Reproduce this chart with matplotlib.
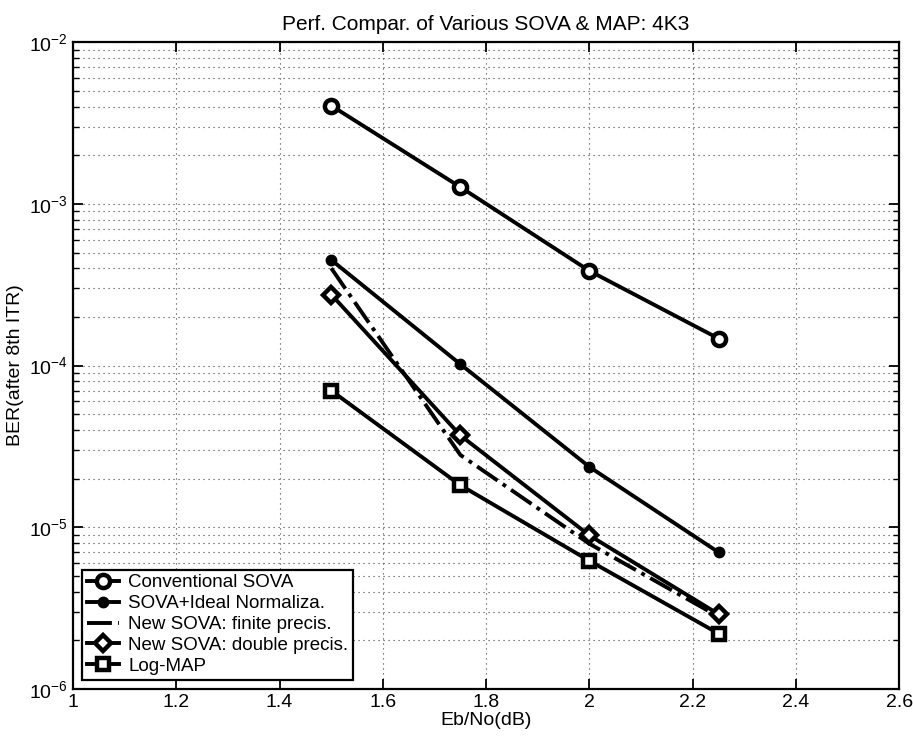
import matplotlib
matplotlib.use("Agg")
import matplotlib.pyplot as plt
from matplotlib.ticker import LogLocator, FixedLocator, NullFormatter

plt.rcParams['font.family'] = ['Liberation Sans', 'DejaVu Sans']
plt.rcParams['mathtext.default'] = 'regular'

# data
ebno = [1.5, 1.75, 2.0, 2.25]
ber_conv = [4.05e-3, 1.27e-3, 3.85e-4, 1.47e-4]
ber_ideal = [4.5e-4, 1.02e-4, 2.36e-5, 7.0e-6]
ber_finite = [4.0e-4, 2.8e-5, 7.9e-6, 2.8e-6]
ber_double = [2.75e-4, 3.7e-5, 8.9e-6, 2.9e-6]
ber_logmap = [7.0e-5, 1.82e-5, 6.2e-6, 2.2e-6]

labels = ['Conventional SOVA', 'SOVA+Ideal Normaliza.', 'New SOVA: finite precis.',
          'New SOVA: double precis.', 'Log-MAP']
xticks = [1, 1.2, 1.4, 1.6, 1.8, 2, 2.2, 2.4, 2.6]
xticklabels = ['1', '1.2', '1.4', '1.6', '1.8', '2', '2.2', '2.4', '2.6']

fig = plt.figure(figsize=(9.13, 7.4), dpi=100)
ax = fig.add_axes([0.080, 0.069, 0.905, 0.874])

lw = 2.8
ax.semilogy(ebno, ber_conv, '-o', color='black', lw=lw, ms=9.5, mfc='white', mec='black', mew=3.2, label=labels[0])
ax.semilogy(ebno, ber_ideal, '-o', color='black', lw=lw, ms=7.5, mfc='black', mec='black', label=labels[1])
ax.semilogy(ebno, ber_finite, '-.', color='black', lw=lw, label=labels[2])
ax.semilogy(ebno, ber_double, '-D', color='black', lw=lw, ms=8.5, mfc='white', mec='black', mew=3.2, label=labels[3])
ax.semilogy(ebno, ber_logmap, '-s', color='black', lw=lw, ms=8.5, mfc='white', mec='black', mew=3.2, label=labels[4])

ax.set_xlim(1, 2.6)
ax.set_ylim(1e-6, 1e-2)
ax.xaxis.set_major_locator(FixedLocator(xticks))
ax.set_xticklabels(xticklabels)
ax.yaxis.set_major_locator(LogLocator(base=10, numticks=10))
ax.yaxis.set_minor_locator(LogLocator(base=10, subs=range(2, 10), numticks=20))
ax.yaxis.set_minor_formatter(NullFormatter())

ax.grid(True, which='major', linestyle=(0, (1, 3.5)), color='0.25', lw=0.8)
ax.grid(True, which='minor', axis='y', linestyle=(0, (1, 3.5)), color='0.25', lw=0.8)
ax.tick_params(which='both', direction='in', top=True, right=True, labelsize=14)
ax.tick_params(which='major', length=7, width=1.3)
ax.tick_params(which='minor', length=4, width=1)
for sp in ax.spines.values():
    sp.set_linewidth(1.6)

ax.set_title('Perf. Compar. of Various SOVA & MAP: 4K3', fontsize=15, pad=9)
ax.set_xlabel('Eb/No(dB)', fontsize=14, labelpad=1)
ax.set_ylabel('BER(after 8th ITR)', fontsize=14, labelpad=4)

leg = ax.legend(loc='lower left', fontsize=13.5, frameon=True, fancybox=False,
                edgecolor='black', framealpha=1, handlelength=1.7,
                borderaxespad=0.5, labelspacing=0.2, borderpad=0.25, handletextpad=0.5)
leg.get_frame().set_linewidth(1.6)

fig.savefig('out.png', dpi=100)
